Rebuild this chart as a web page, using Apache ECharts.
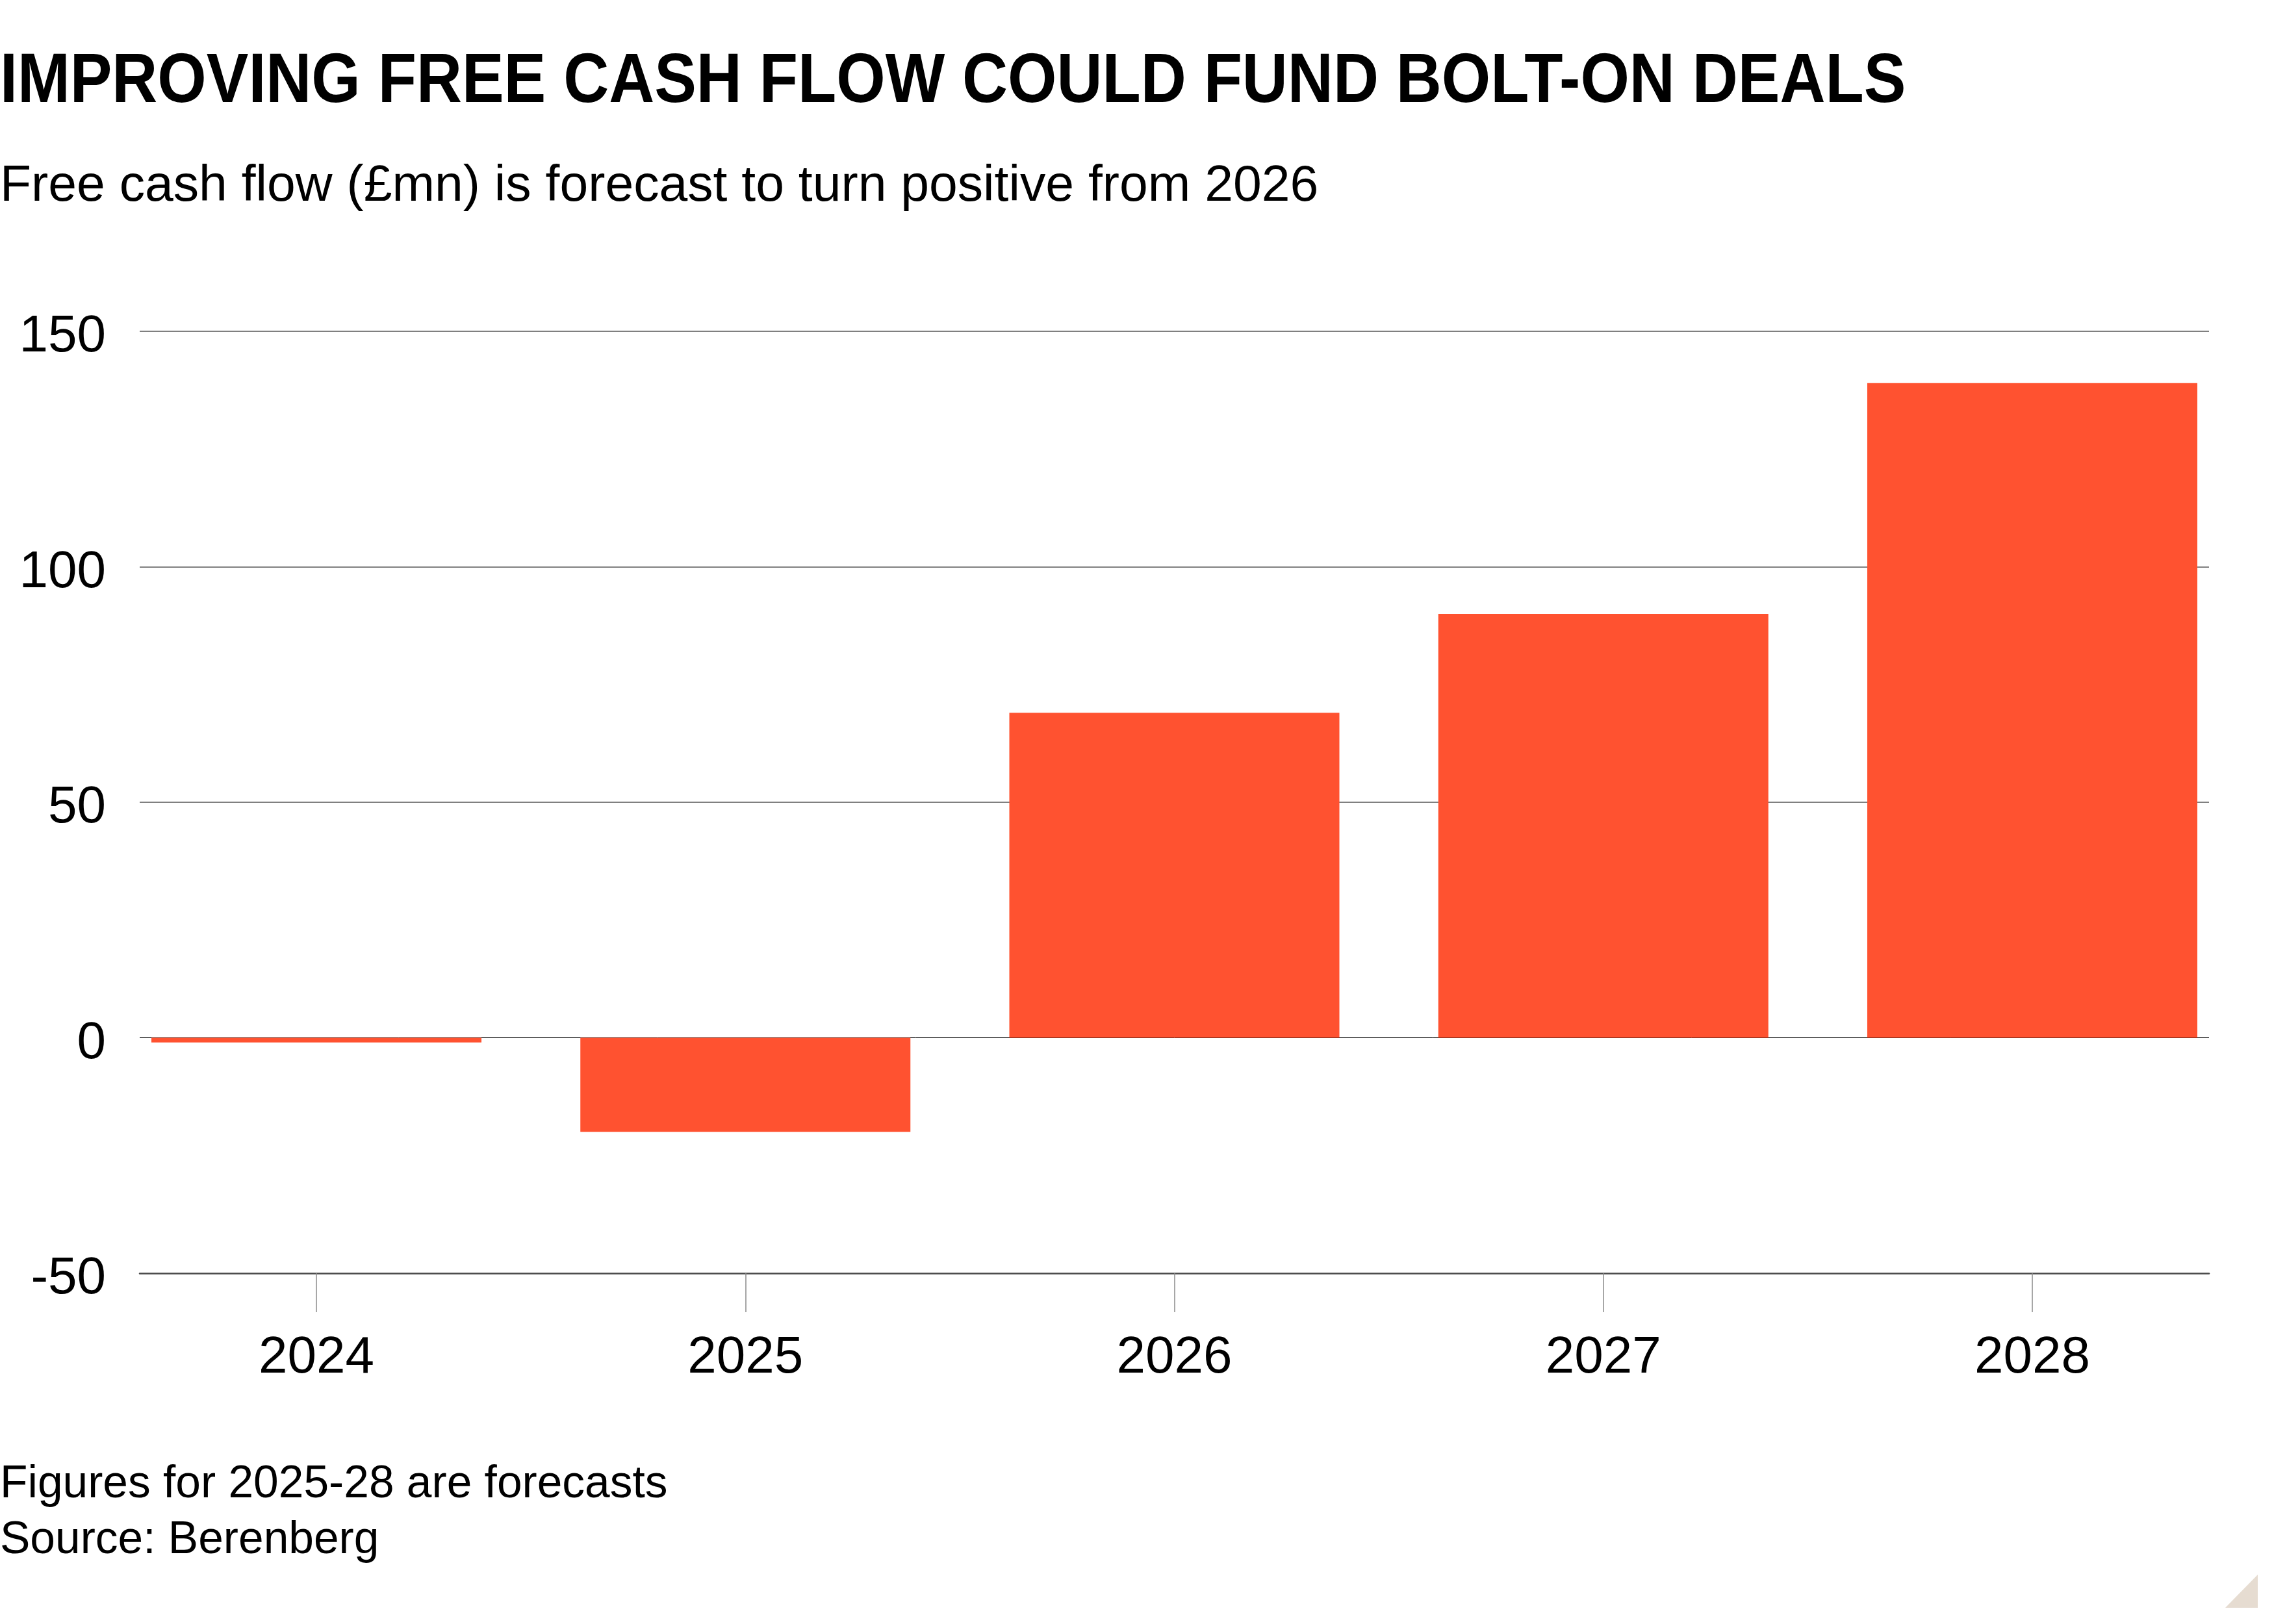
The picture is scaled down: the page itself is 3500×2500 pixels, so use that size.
<!DOCTYPE html>
<html>
<head>
<meta charset="utf-8">
<script src="https://cdn.jsdelivr.net/npm/echarts@6/dist/echarts.min.js"></script>
<style>
  html, body { margin: 0; padding: 0; background: #ffffff; }
  #chart { width: 3500px; height: 2500px; }
</style>
</head>
<body>
<div id="chart"></div>
<script>
// ---- data ----
const categories = ['2024', '2025', '2026', '2027', '2028'];
const freeCashFlow = [-1, -20, 69, 90, 139];
const yTickValues = [-50, 0, 50, 100, 150];
const titleText = 'IMPROVING FREE CASH FLOW COULD FUND BOLT-ON DEALS';
const subtitleText = 'Free cash flow (£mn) is forecast to turn positive from 2026';
const noteText = 'Figures for 2025-28 are forecasts';
const sourceText = 'Source: Berenberg';

// ---- chart ----
const years = categories.map(Number);
const seriesData = years.map((y, i) => [y, freeCashFlow[i]]);
const FONT = '"Liberation Sans", Arial, sans-serif';
const xPad = 0.412;

const chart = echarts.init(document.getElementById('chart'), null, { renderer: 'canvas' });

const yBase = {
  type: 'value',
  min: yTickValues[0],
  max: yTickValues[yTickValues.length - 1],
  interval: 50,
  axisLine: { show: false },
  axisTick: { show: false }
};

chart.setOption({
  backgroundColor: '#ffffff',
  animation: false,
  textStyle: { fontFamily: FONT },
  grid: { left: 215, right: 100, top: 510, bottom: 540, containLabel: false },
  xAxis: {
    type: 'value',
    min: years[0] - xPad,
    max: years[years.length - 1] + xPad,
    splitLine: { show: false },
    axisLine: { show: true, onZero: false, lineStyle: { color: '#4a4a4a', width: 2.5 } },
    axisTick: { show: true, customValues: years, length: 60, lineStyle: { color: '#8a8a8a', width: 1.5 } },
    axisLabel: {
      show: true, customValues: years, margin: 91,
      color: '#000', fontSize: 80, fontFamily: FONT,
      formatter: v => String(v)
    }
  },
  yAxis: [
    Object.assign({}, yBase, {
      axisLabel: { show: true, margin: 52, color: '#000', fontSize: 80, fontFamily: FONT,
                   formatter: v => '{a|' + String(v) + '}',
                   rich: { a: { fontSize: 80, fontFamily: FONT, color: '#000', padding: [18, 0, 0, 0] } } },
      splitLine: { show: true, lineStyle: {
        color: ['rgba(0,0,0,0)', 'rgba(0,0,0,0)', '#808080', '#808080', '#808080'], width: 2 } }
    }),
    Object.assign({}, yBase, {
      position: 'left',
      axisLabel: { show: false },
      splitLine: { show: true, lineStyle: {
        color: ['rgba(0,0,0,0)', '#000000', 'rgba(0,0,0,0)', 'rgba(0,0,0,0)', 'rgba(0,0,0,0)'], width: 1 } }
    })
  ],
  series: [{
    type: 'bar',
    xAxisIndex: 0,
    yAxisIndex: 0,
    data: seriesData,
    barWidth: 508,
    itemStyle: { color: '#ff5230' },
    silent: true
  }],
  graphic: [
    { type: 'text', left: 0, top: 74, scaleX: 0.906,
      style: { text: titleText, font: 'bold 107px ' + FONT, fill: '#000' } },
    { type: 'text', left: 0, top: 248,
      style: { text: subtitleText, font: '78.7px ' + FONT, fill: '#000' } },
    { type: 'text', left: 0, top: 2251,
      style: { text: noteText, font: '69.5px ' + FONT, fill: '#000' } },
    { type: 'text', left: 0, top: 2337,
      style: { text: sourceText, font: '69.5px ' + FONT, fill: '#000' } },
    { type: 'polygon',
      shape: { points: [[3475, 2424], [3475, 2475], [3425, 2475]] },
      style: { fill: '#e6dcd1' } }
  ]
});
</script>
</body>
</html>
